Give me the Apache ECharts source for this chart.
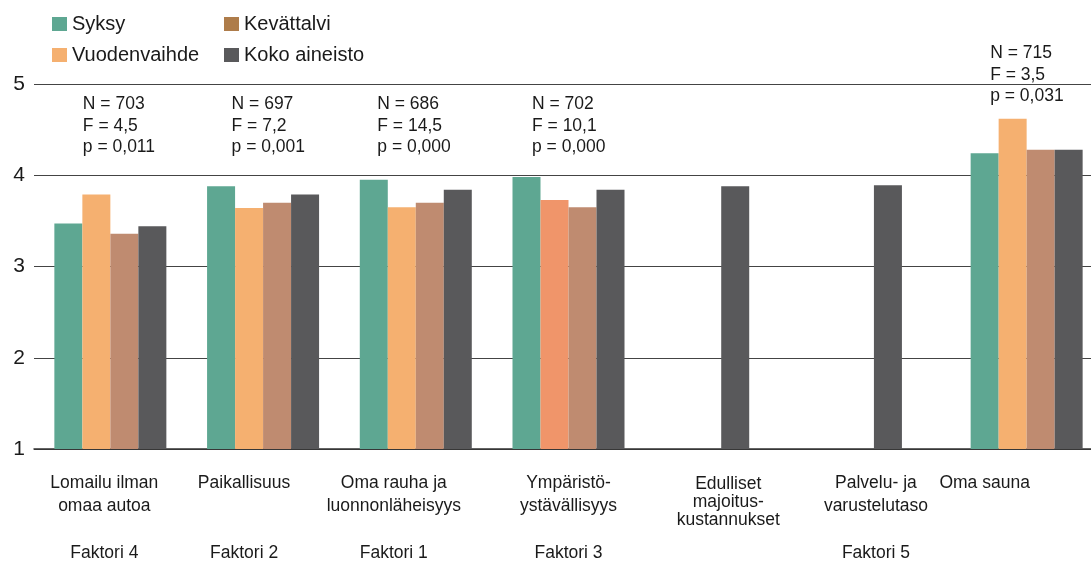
<!DOCTYPE html>
<html>
<head>
<meta charset="utf-8">
<script src="https://cdn.jsdelivr.net/npm/echarts@6/dist/echarts.min.js"></script>
<style>
html,body{margin:0;padding:0;background:#fff;}
#chart{width:1091px;height:561px;}
</style>
</head>
<body>
<div id="chart"></div>
<script>
// ---- data ----
const categories = ['Lomailu ilman\nomaa autoa', 'Paikallisuus', 'Oma rauha ja\nluonnonläheisyys', 'Ympäristö-\nystävällisyys', 'Edulliset\nmajoitus-\nkustannukset', 'Palvelu- ja\nvarustelutaso', 'Oma sauna'];
const factors = ['Faktori 4', 'Faktori 2', 'Faktori 1', 'Faktori 3', '', 'Faktori 5', ''];
const seriesNames = ['Syksy', 'Vuodenvaihde', 'Kevättalvi', 'Koko aineisto'];
const syksy = [3.47, 3.88, 3.95, 3.98, null, null, 4.24];
const vuodenvaihde = [3.79, 3.64, 3.65, 3.73, null, null, 4.62];
const kevattalvi = [3.36, 3.70, 3.70, 3.65, null, null, 4.28];
const koko = [3.44, 3.79, 3.84, 3.84, 3.88, 3.89, 4.28];
const annotations = ['N = 703\nF = 4,5\np = 0,011', 'N = 697\nF = 7,2\np = 0,001', 'N = 686\nF = 14,5\np = 0,000', 'N = 702\nF = 10,1\np = 0,000', '', '', 'N = 715\nF = 3,5\np = 0,031'];
const yTicks = [1, 2, 3, 4, 5];

// ---- styles / layout ----
const FONT = '"Liberation Sans", Arial, sans-serif';
const colors = { syksy: '#5ea792', vuo: '#f5b070', vuoAlt: '#f0956a', kev: '#bf8b70', kevLegend: '#ae7c4a', koko: '#59595b' };
const labelShift = [-6, -19, -22, 0, 7, 2, -42];
const annotY = [4.54, 4.54, 4.54, 4.54, null, null, 5.1];
const annotDx = [-28, -32, -39, -37, 0, 0, -37];

const onlyKoko = i => syksy[i] == null && vuodenvaihde[i] == null && kevattalvi[i] == null;

const xData = categories.map((c, i) => {
  const d = labelShift[i];
  const top = c.split('\n').length >= 3 ? 4 : 0;
  return { value: c, textStyle: { padding: d < 0 ? [top, -2 * d, 0, 0] : [top, 0, 0, 2 * d] } };
});

const legendCommon = {
  top: 9, orient: 'vertical', itemWidth: 15, itemHeight: 14, itemGap: 11,
  icon: 'rect', selectedMode: false,
  textStyle: { fontSize: 20, color: '#1a1a1a', fontFamily: FONT }
};

const chart = echarts.init(document.getElementById('chart'), null, { renderer: 'canvas' });
chart.setOption({
  animation: false,
  backgroundColor: '#ffffff',
  textStyle: { fontFamily: FONT },
  legend: [
    Object.assign({ left: 47, data: [{ name: 'Syksy', itemStyle: { color: colors.syksy } }, { name: 'Vuodenvaihde', itemStyle: { color: colors.vuo } }] }, legendCommon),
    Object.assign({ left: 219, data: [{ name: 'Kevättalvi', itemStyle: { color: colors.kevLegend } }, { name: 'Koko aineisto', itemStyle: { color: colors.koko } }] }, legendCommon)
  ],
  grid: { left: 34, top: 84, width: 1069, bottom: 112, containLabel: false, outerBoundsMode: 'none' },
  xAxis: {
    type: 'category',
    data: xData,
    axisLine: { show: true, lineStyle: { color: '#333', width: 1.5 } },
    axisTick: { show: false },
    axisLabel: {
      interval: 0, margin: 22, color: '#1a1a1a', fontSize: 17.5, lineHeight: 23, fontFamily: FONT,
      align: 'center', verticalAlign: 'top', hideOverlap: false,
      formatter: function (value, idx) {
        const lines = value.split('\n');
        if (lines.length >= 3) return lines.map(l => '{t|' + l + '}').join('\n');
        const out = lines.map(l => '{n|' + l + '}');
        while (out.length < 3) out.push('{n| }');
        if (factors[idx]) out.push('{n|' + factors[idx] + '}');
        return out.join('\n');
      },
      rich: {
        n: { fontSize: 17.5, lineHeight: 23.5, color: '#1a1a1a', fontFamily: FONT },
        t: { fontSize: 17.5, lineHeight: 18, color: '#1a1a1a', fontFamily: FONT }
      }
    }
  },
  yAxis: {
    type: 'value', min: yTicks[0], max: yTicks[yTicks.length - 1], interval: 1,
    axisLine: { show: false }, axisTick: { show: false },
    axisLabel: { margin: 9, fontSize: 21, color: '#1a1a1a', fontFamily: FONT },
    splitLine: { show: true, lineStyle: { color: '#444', width: 1.2 } }
  },
  series: [
    { name: 'Syksy', type: 'bar', barWidth: 28, barGap: 0, itemStyle: { color: colors.syksy }, data: syksy },
    { name: 'Vuodenvaihde', type: 'bar', barWidth: 28, barGap: 0, itemStyle: { color: colors.vuo },
      data: vuodenvaihde.map((v, i) => i === 3 ? { value: v, itemStyle: { color: colors.vuoAlt } } : v) },
    { name: 'Kevättalvi', type: 'bar', barWidth: 28, barGap: 0, itemStyle: { color: colors.kev },
      data: kevattalvi.map((v, i) => onlyKoko(i) ? { value: koko[i], itemStyle: { color: colors.koko } } : v) },
    { name: 'Koko aineisto', type: 'bar', barWidth: 28, barGap: 0, itemStyle: { color: colors.koko },
      data: koko.map((v, i) => onlyKoko(i) ? null : v) },
    {
      name: 'annot', type: 'scatter', clip: false, symbolSize: 1, silent: true,
      itemStyle: { color: 'rgba(255,255,255,0)', opacity: 1 },
      label: {
        show: true, position: 'right', distance: 0, align: 'left', verticalAlign: 'middle',
        fontSize: 17.5, lineHeight: 21.5, color: '#1a1a1a', opacity: 1, fontFamily: FONT,
        textBorderWidth: 0,
        formatter: p => annotations[p.data.value[0]]
      },
      data: annotations.map((a, i) => a ? { value: [i, annotY[i]], label: { offset: [annotDx[i], 0] } } : null).filter(d => d)
    }
  ]
});
</script>
</body>
</html>
